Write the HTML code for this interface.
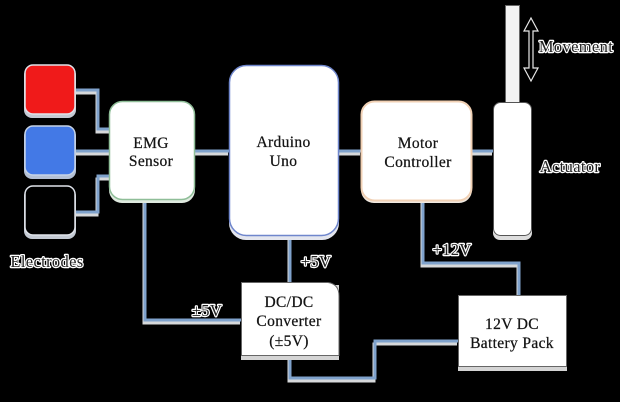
<!DOCTYPE html>
<html><head><meta charset="utf-8">
<style>
html,body{margin:0;padding:0;background:#000;}
body{width:620px;height:402px;overflow:hidden;}
svg{display:block;filter:blur(.35px);}
text{font-family:"Liberation Serif",serif;fill:#141414;font-size:15.500px;text-anchor:middle;letter-spacing:.35px;stroke:#141414;stroke-width:.25px;}
.o{font-size:16.500px;fill:#222;stroke:#fff;stroke-width:2.400px;paint-order:stroke;stroke-linejoin:round;}
.s{fill:none;stroke:#d6d8da;stroke-width:3;}
.l{fill:none;stroke:#7fa2cc;stroke-width:3;}
</style></head><body>
<svg width="620" height="402" viewBox="0 0 620 402" xmlns="http://www.w3.org/2000/svg">
<rect width="620" height="402" fill="#000"/>
<g class="s" transform="translate(-1,3)">
<path d="M75 90H98V129H110M75 151H110M75 212H98V176H110M195 151H229M339 151H361M472 151H493"/>
<path d="M145 200V320H241M290 235V282M290 356V378H375V341H458M423 200V263H519V295"/>
</g>
<g class="l">
<path d="M75 90H98V129H110M75 151H110M75 212H98V176H110M195 151H229M339 151H361M472 151H493"/>
<path d="M145 200V320H241M290 235V282M290 356V378H375V341H458M423 200V263H519V295"/>
</g>
<!-- electrodes -->
<rect x="24" y="67" width="52" height="51" rx="8" fill="#c4cad4"/>
<rect x="24" y="128" width="52" height="51" rx="8" fill="#b4c0d4"/>
<rect x="24" y="188" width="52" height="51" rx="8" fill="#c4cad4"/>
<rect x="25" y="65" width="50" height="49" rx="8" fill="#f01a1a" stroke="#dfe3ea" stroke-width="1.500"/>
<rect x="25" y="126" width="50" height="49" rx="8" fill="#4379e6" stroke="#c6d3e6" stroke-width="1.500"/>
<rect x="25" y="186" width="50" height="49" rx="8" fill="#000" stroke="#dfe3ea" stroke-width="1.500"/>
<!-- shadows -->
<rect x="109" y="104" width="86" height="99" rx="13" fill="#dfe9df"/>
<rect x="229" y="68" width="110" height="172" rx="17" fill="#e4e6ee"/>
<rect x="361" y="104" width="111" height="99" rx="13" fill="#efe8e0"/>
<rect x="493" y="105" width="39" height="135" rx="7" fill="#ddd"/>
<rect x="241" y="285" width="98" height="75" fill="#d4d4d4"/>
<rect x="458" y="298" width="109" height="73" fill="#d4d4d4"/>
<!-- boxes -->
<rect x="109.500" y="101.500" width="85" height="98" rx="13" fill="#fff" stroke="#8fbe98" stroke-width="1.500"/>
<rect x="229.500" y="65.500" width="109" height="170" rx="17" fill="#fff" stroke="#6f86cc" stroke-width="1.500"/>
<rect x="361.500" y="101.500" width="110" height="99" rx="13" fill="#fff" stroke="#f0d0b4" stroke-width="2"/>
<rect x="505.500" y="5.500" width="14" height="97" fill="#f3f3f3" stroke="#666" stroke-width="1"/>
<rect x="493.500" y="102.500" width="38" height="133" rx="7" fill="#fff" stroke="#555" stroke-width="1"/>
<path d="M241.500 282.500H328Q339 284 339 296V355.500H241.500Z" fill="#fff" stroke="#666" stroke-width="1"/>
<rect x="458.500" y="295.500" width="108" height="71" fill="#fff" stroke="#666" stroke-width="1"/>
<!-- arrow -->
<path d="M531 18L538 31H533V68H538L531 81L524 68H529V31H524Z" fill="#000" stroke="#e8e8e8" stroke-width="1.200"/>
<!-- labels -->
<text x="151" y="148">EMG</text>
<text x="151" y="166">Sensor</text>
<text x="283.500" y="147">Arduino</text>
<text x="283.500" y="166">Uno</text>
<text x="418" y="148">Motor</text>
<text x="418" y="167">Controller</text>
<text x="289" y="307">DC/DC</text>
<text x="289" y="326">Converter</text>
<text x="289" y="346">(±5V)</text>
<text x="512" y="329">12V DC</text>
<text x="512" y="348">Battery Pack</text>
<text class="o" x="47" y="267">Electrodes</text>
<text class="o" x="576" y="52">Movement</text>
<text class="o" x="570" y="172">Actuator</text>
<text class="o" x="316" y="267">+5V</text>
<text class="o" x="207" y="316">±5V</text>
<text class="o" x="452" y="255">+12V</text>
</svg>
</body></html>
